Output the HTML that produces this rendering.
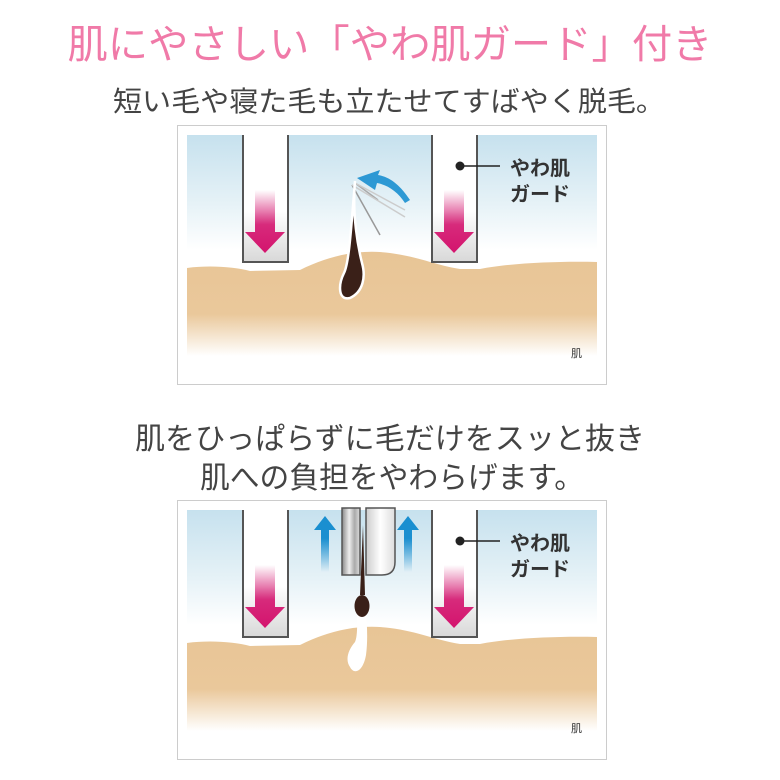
<!DOCTYPE html>
<html><head><meta charset="utf-8"><style>
html,body{margin:0;padding:0;background:#fff}
svg{display:block}
text{font-family:"Liberation Sans","Noto Sans CJK JP",sans-serif}
</style></head><body>
<svg width="780" height="780" viewBox="0 0 780 780" xmlns="http://www.w3.org/2000/svg">
<defs>
<linearGradient id="sky" x1="0" y1="0" x2="0" y2="1">
<stop offset="0" stop-color="#c6e1ee"/><stop offset="0.3" stop-color="#e6f2f7"/><stop offset="0.5" stop-color="#fff"/><stop offset="1" stop-color="#fff"/>
</linearGradient>
<linearGradient id="skin" x1="0" y1="0" x2="0" y2="1">
<stop offset="0" stop-color="#e8c596"/><stop offset="0.55" stop-color="#eac89b"/><stop offset="0.92" stop-color="#fff"/><stop offset="1" stop-color="#fff"/>
</linearGradient>
<linearGradient id="guard" x1="0" y1="0" x2="0" y2="1">
<stop offset="0" stop-color="#fff"/><stop offset="0.6" stop-color="#fff"/><stop offset="1" stop-color="#d8d8d8"/>
</linearGradient>
<linearGradient id="pink" x1="0" y1="0" x2="0" y2="1">
<stop offset="0" stop-color="#d4146e" stop-opacity="0"/><stop offset="0.55" stop-color="#d4146e" stop-opacity="0.9"/><stop offset="1" stop-color="#d4146e"/>
</linearGradient>
<linearGradient id="blue" x1="0" y1="1" x2="0" y2="0">
<stop offset="0" stop-color="#1a8fd0" stop-opacity="0"/><stop offset="0.6" stop-color="#1a8fd0"/><stop offset="1" stop-color="#1a8fd0"/>
</linearGradient>
<linearGradient id="metal" x1="0" y1="0" x2="1" y2="0">
<stop offset="0" stop-color="#888"/><stop offset="0.4" stop-color="#eee"/><stop offset="0.7" stop-color="#aaa"/><stop offset="1" stop-color="#ddd"/>
</linearGradient>
<linearGradient id="metal2" x1="0" y1="0" x2="1" y2="0">
<stop offset="0" stop-color="#ccc"/><stop offset="0.5" stop-color="#fff"/><stop offset="1" stop-color="#ddd"/>
</linearGradient>
<g id="guardL">
<rect x="243" y="0" width="45" height="127" fill="url(#guard)"/>
<path d="M243 0 V127 H288 V0" fill="none" stroke="#555" stroke-width="2"/>
<path d="M255 55 H275 V97 H285 L265 118 L245 97 H255 Z" fill="url(#pink)"/>
</g>
<g id="scene">
<rect x="187" y="0" width="410" height="230" fill="url(#sky)"/>
<path d="M187 133 C210 130 235 132 250 136 L300 135 C330 120 360 114 390 118 C420 122 435 130 460 134 L480 134 C510 128 560 126 597 127 V230 H187 Z" fill="url(#skin)"/>
<use href="#guardL"/>
<use href="#guardL" transform="translate(189,0)"/>
<circle cx="460" cy="31" r="4.5" fill="#222"/>
<line x1="460" y1="31" x2="500" y2="31" stroke="#222" stroke-width="1.5"/>
<text x="510" y="40" font-size="20" font-weight="bold" fill="#333">やわ肌</text>
<text x="510" y="66" font-size="20" font-weight="bold" fill="#333">ガード</text>
<text x="571" y="222" font-size="11" fill="#333">肌</text>
</g>
</defs>
<text x="390" y="58" font-size="40" fill="#f07aa8" text-anchor="middle" textLength="645" lengthAdjust="spacingAndGlyphs">肌にやさしい「やわ肌ガード」付き</text>
<text x="389" y="111" font-size="28" fill="#444" text-anchor="middle" textLength="552" lengthAdjust="spacingAndGlyphs">短い毛や寝た毛も立たせてすばやく脱毛。</text>
<text x="390" y="449" font-size="30" fill="#444" text-anchor="middle" textLength="510" lengthAdjust="spacingAndGlyphs">肌をひっぱらずに毛だけをスッと抜き</text>
<text x="392" y="488" font-size="30" fill="#444" text-anchor="middle" textLength="384" lengthAdjust="spacingAndGlyphs">肌への負担をやわらげます。</text>

<rect x="177.5" y="125.5" width="429" height="259" fill="#fff" stroke="#ccc"/>
<g transform="translate(0,135)"><use href="#scene"/>
<line x1="355" y1="48" x2="378" y2="65" stroke="#aaa" stroke-width="1.5"/>
<line x1="355" y1="48" x2="405" y2="75" stroke="#ccc" stroke-width="1.5"/>
<line x1="352" y1="50" x2="380" y2="100" stroke="#999" stroke-width="1.5"/>
<line x1="352" y1="50" x2="405" y2="82" stroke="#ccc" stroke-width="1.5"/>
<path d="M355 46 C352 80 358 112 362 128 C366 142 363 157 350 163 C338 166 338 150 344 138 C349 128 351 95 355 46 Z" fill="#3a2018" stroke="#fff" stroke-width="2.5"/>
<path d="M410 65 C400 50 390 42 378 40 L380 35 L357 43 L375 55 L377 48 C388 50 398 57 405 68 Z" fill="#1a8fd0" opacity="0.9"/>
</g>

<rect x="177.5" y="500.5" width="429" height="259" fill="#fff" stroke="#ccc"/>
<g transform="translate(0,510)"><use href="#scene"/>
<path d="M321 62 H329 V20 H336 L325 6 L314 20 H321 Z" fill="url(#blue)"/>
<path d="M404 62 H412 V20 H419 L408 6 L397 20 H404 Z" fill="url(#blue)"/>
<rect x="342" y="-2" width="18" height="67" fill="url(#metal)" stroke="#555" stroke-width="1.5"/>
<path d="M366 -2 H395 V52 Q395 65 382 65 H366 Z" fill="url(#metal2)" stroke="#555" stroke-width="1.5"/>
<path d="M350 157 C345 150 348 140 355 132 C358 125 357 110 357 100 L366 100 C367 115 368 130 366 145 C363 162 354 165 350 157 Z" fill="#fff"/>
<path d="M363 15 L365 85 L360 85 Z" fill="#3a2018"/>
<ellipse cx="362" cy="96" rx="7.5" ry="11" fill="#3a2018"/>
</g>
</svg>
</body></html>
